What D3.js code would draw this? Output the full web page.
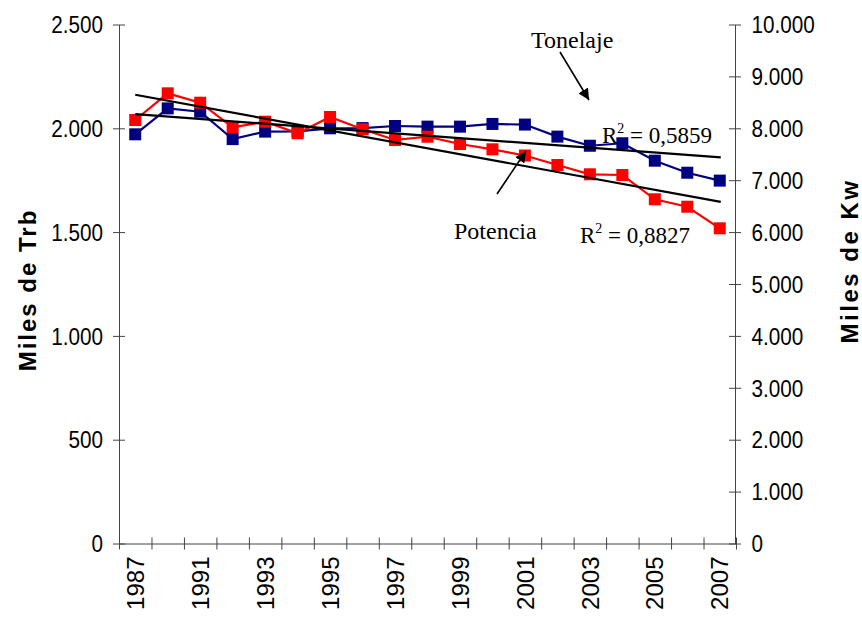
<!DOCTYPE html>
<html>
<head>
<meta charset="utf-8">
<script src="https://cdn.jsdelivr.net/npm/d3@7"></script>
<style>
  html, body { margin: 0; padding: 0; background: #fff; }
  svg { display: block; }
</style>
</head>
<body>
<svg id="chart" width="862" height="621"></svg>
<script>
// Fleet evolution: tonnage (miles de TRB, left axis) and engine power (miles de Kw, right axis)
const categories = ["1987","1989","1991","1992","1993","1994","1995","1996","1997","1998",
                    "1999","2000","2001","2002","2003","2004","2005","2006","2007"];
const tonelaje = [1971, 2096, 2080, 1948, 1984, 1985, 2000, 2001, 2011, 2008,
                  2008, 2021, 2018, 1960, 1916, 1928, 1844, 1786, 1748];
const potencia = [8160, 8674, 8493, 8019, 8127, 7904, 8218, 7981, 7775, 7838,
                  7697, 7595, 7476, 7293, 7114, 7100, 6632, 6489, 6073];
const xLabels = ["1987","1991","1993","1995","1997","1999","2001","2003","2005","2007"];
const leftTicks = [0, 500, 1000, 1500, 2000, 2500];
const rightTicks = [0, 1000, 2000, 3000, 4000, 5000, 6000, 7000, 8000, 9000, 10000];
const r2Tonelaje = "0,5859";
const r2Potencia = "0,8827";

const svg = d3.select("#chart");
const plotL = 119, plotR = 736, plotT = 24.5, plotB = 543.5;

const locale = d3.formatLocale({decimal: ",", thousands: ".", grouping: [3], currency: ["", "€"]});
const fmt = locale.format(",d");

const x = d3.scaleBand().domain(categories).range([plotL, plotR]).paddingInner(0).paddingOuter(0);
const xc = d => x(d) + x.bandwidth() / 2;
const xIdx = d3.scaleLinear().domain([0, categories.length]).range([plotL, plotR]);
const yL = d3.scaleLinear().domain([0, 2500]).range([plotB, plotT]);
const yR = d3.scaleLinear().domain([0, 10000]).range([plotB, plotT]);

const axisColor = "#444";
const tickFont = "Liberation Sans, Arial, sans-serif";
const sx = 0.9;

// Left axis
const gL = svg.append("g").attr("transform", `translate(${plotL},0)`)
  .call(d3.axisLeft(yL).tickValues(leftTicks).tickFormat(fmt).tickSizeOuter(0));
gL.select(".domain").attr("stroke", axisColor);
gL.selectAll(".tick line").attr("x1", -6).attr("x2", 6).attr("stroke", axisColor);
gL.selectAll(".tick text")
  .attr("font-family", tickFont).attr("font-size", 23).attr("fill", "#000")
  .attr("x", -16 / sx).attr("dy", "0.36em")
  .attr("transform", `scale(${sx},1)`);

// Right axis
const gR = svg.append("g").attr("transform", `translate(${plotR - 1},0)`)
  .call(d3.axisRight(yR).tickValues(rightTicks).tickFormat(fmt).tickSizeOuter(0));
gR.select(".domain").attr("stroke", axisColor);
gR.selectAll(".tick line").attr("x1", -6).attr("x2", 6).attr("stroke", axisColor);
gR.selectAll(".tick text")
  .attr("font-family", tickFont).attr("font-size", 23).attr("fill", "#000")
  .attr("x", 16.5 / sx).attr("dy", "0.36em")
  .attr("transform", `scale(${sx},1)`);

// Bottom axis: ticks on category boundaries
const gB = svg.append("g").attr("transform", `translate(0,${plotB})`)
  .call(d3.axisBottom(xIdx).tickValues(d3.range(categories.length + 1)).tickFormat("").tickSizeOuter(0));
gB.select(".domain").attr("stroke", axisColor);
gB.selectAll(".tick line").attr("y1", -6).attr("y2", 6).attr("stroke", axisColor);

// Bottom axis labels on every other category, rotated
const gBL = svg.append("g").attr("transform", `translate(0,${plotB})`)
  .call(d3.axisBottom(x).tickValues(xLabels).tickSize(0));
gBL.select(".domain").remove();
gBL.selectAll(".tick text")
  .attr("font-family", tickFont).attr("font-size", 24).attr("fill", "#000")
  .attr("transform", "rotate(-90)")
  .attr("text-anchor", "end")
  .attr("x", -13).attr("y", 0).attr("dy", "0.36em");

// Axis titles
svg.append("text")
  .attr("transform", `translate(27,${(208 + 372) / 2}) rotate(-90)`)
  .attr("text-anchor", "middle").attr("dy", "0.36em")
  .attr("font-family", tickFont).attr("font-weight", "bold").attr("font-size", 24)
  .attr("letter-spacing", 2)
  .text("Miles de Trb");
svg.append("text")
  .attr("transform", `translate(849,${(180 + 342) / 2}) rotate(-90)`)
  .attr("text-anchor", "middle").attr("dy", "0.36em")
  .attr("font-family", tickFont).attr("font-weight", "bold").attr("font-size", 24)
  .attr("letter-spacing", 2.5)
  .text("Miles de Kw");

// Series
function drawSeries(values, yScale, color) {
  const line = d3.line().x((d, i) => xc(categories[i])).y(d => yScale(d));
  svg.append("path").datum(values)
    .attr("d", line).attr("fill", "none").attr("stroke", color).attr("stroke-width", 2.2);
  svg.append("g").selectAll("rect").data(values).join("rect")
    .attr("x", (d, i) => xc(categories[i]) - 6)
    .attr("y", d => yScale(d) - 6)
    .attr("width", 12).attr("height", 12)
    .attr("fill", color);
}
drawSeries(tonelaje, yL, "#000080");
drawSeries(potencia, yR, "#ff0000");

// Linear trend lines (least squares on category index)
function trend(values) {
  const n = values.length;
  const mx = (n - 1) / 2, my = d3.mean(values);
  let sxy = 0, sxx = 0;
  values.forEach((v, i) => { sxy += (i - mx) * (v - my); sxx += (i - mx) * (i - mx); });
  const b = sxy / sxx, a = my - b * mx;
  return [0, n - 1].map(i => ({i, v: a + b * i}));
}
function drawTrend(values, yScale) {
  const pts = trend(values);
  svg.append("line")
    .attr("x1", xc(categories[pts[0].i])).attr("y1", yScale(pts[0].v))
    .attr("x2", xc(categories[pts[1].i]) + 1).attr("y2", yScale(pts[1].v))
    .attr("stroke", "#000").attr("stroke-width", 2.2);
}
drawTrend(tonelaje, yL);
drawTrend(potencia, yR);

// Annotations
const serif = "Liberation Serif, Times New Roman, serif";
const defs = svg.append("defs");
defs.append("marker").attr("id", "arrow")
  .attr("viewBox", "0 0 10 10").attr("refX", 10).attr("refY", 5)
  .attr("markerWidth", 7).attr("markerHeight", 7).attr("markerUnits", "strokeWidth")
  .attr("orient", "auto")
  .append("path").attr("d", "M0,0 L10,5 L0,10 z").attr("fill", "#000");

svg.append("text").attr("x", 531).attr("y", 48)
  .attr("font-family", serif).attr("font-size", 24).text("Tonelaje");
svg.append("line").attr("x1", 560).attr("y1", 52).attr("x2", 589).attr("y2", 100)
  .attr("stroke", "#000").attr("stroke-width", 1.6).attr("marker-end", "url(#arrow)");

svg.append("text").attr("x", 454).attr("y", 239)
  .attr("font-family", serif).attr("font-size", 24).text("Potencia");
svg.append("line").attr("x1", 497).attr("y1", 194).attr("x2", 526).attr("y2", 151)
  .attr("stroke", "#000").attr("stroke-width", 1.6).attr("marker-end", "url(#arrow)");

function r2Label(xp, yp, val) {
  const t = svg.append("text").attr("x", xp).attr("y", yp)
    .attr("font-family", serif).attr("font-size", 23);
  t.append("tspan").text("R");
  t.append("tspan").attr("font-size", 14).attr("dy", -10).text("2");
  t.append("tspan").attr("dy", 10).text(" = " + val);
}
r2Label(602, 143, r2Tonelaje);
r2Label(580, 243, r2Potencia);
</script>
</body>
</html>
